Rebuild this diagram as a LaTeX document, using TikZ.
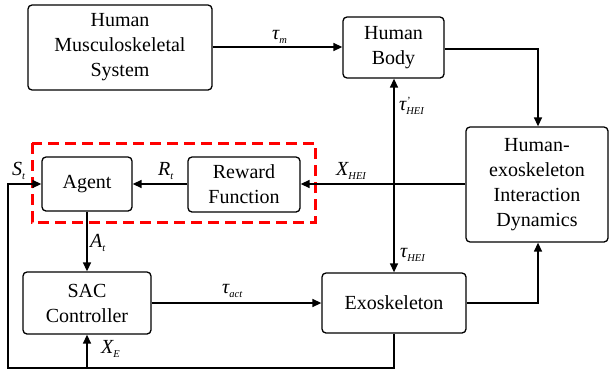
\documentclass[tikz,border=0pt]{standalone}
\usepackage{fontspec}
\setmainfont{Liberation Serif}
\usetikzlibrary{arrows.meta,positioning}

% symbol with a lowered subscript (and optional prime)
\newcommand{\symsub}[2]{{\fontsize{20}{20}\selectfont\itshape #1}\raisebox{-0.4em}{\fontsize{10.5}{10.5}\selectfont\itshape #2}}
\newcommand{\symprimesub}[2]{{\fontsize{20}{20}\selectfont\itshape #1}\rlap{\raisebox{0.55em}{\fontsize{11}{11}\selectfont\itshape '}}\raisebox{-0.4em}{\fontsize{10.5}{10.5}\selectfont\itshape #2}}

\tikzset{
  blockbox/.style={draw, line width=1.3pt, rounded corners=4pt, align=center,
    font=\fontsize{20}{25}\selectfont, inner sep=0pt},
  flow/.style={line width=1.4pt, -{Triangle[length=9pt,width=8pt]}},
  both/.style={line width=1.4pt, {Triangle[length=9pt,width=8pt]}-{Triangle[length=9pt,width=8pt]}},
  plain/.style={line width=1.4pt},
  sym/.style={anchor=west, inner sep=0pt},
  groupbox/.style={draw=red, line width=3pt, dash pattern=on 11pt off 6pt}
}

\begin{document}
\begin{tikzpicture}[x=1pt,y=-1pt]
\useasboundingbox (0,0) rectangle (609,375);

% blocks
\node[blockbox, minimum width=184pt, minimum height=85pt] (hms) at (120,47.5) {Human\\Musculoskeletal\\System};
\node[blockbox, minimum width=101pt, minimum height=61pt] (body) at (393.5,47.5) {Human\\Body};
\node[blockbox, minimum width=142pt, minimum height=115pt] (hid) at (537,184.5) {Human-\\exoskeleton\\Interaction\\Dynamics};
\node[blockbox, minimum width=90pt, minimum height=54pt] (agent) at (87,184) {Agent};
\node[blockbox, minimum width=112pt, minimum height=55pt] (reward) at (244,184.5) {Reward\\Function};
\node[blockbox, minimum width=128pt, minimum height=62pt] (sac) at (87,303) {SAC\\Controller};
\node[blockbox, minimum width=144pt, minimum height=60pt] (exo) at (394,303) {Exoskeleton};

% dashed group around agent and reward
\draw[groupbox] (32,143) rectangle (315,222);

% helper points
\coordinate (bodyturn) at (538,49);
\coordinate (exoturn) at (538,303);
\coordinate (loopR) at (394,368);
\coordinate (loopL) at (8,368);
\coordinate (loopUp) at (8,184);
\coordinate (xeBase) at (87,368);

% connectors
\draw[flow] (hms.east |- 0,47) -- (body.west |- 0,47);
\draw[flow] (body.east |- bodyturn) -- (bodyturn) -- (hid.north -| bodyturn);
\draw[flow] (exo.east) -- (exoturn) -- (hid.south -| exoturn);
\draw[flow] (hid.west |- 0,184) -- (reward.east |- 0,184);
\draw[flow] (reward.west |- 0,184) -- (agent.east |- 0,184);
\draw[flow] (agent.south) -- (sac.north);
\draw[flow] (sac.east) -- (exo.west);
\draw[both] (body.south -| 394,0) -- (exo.north);
\draw[flow] (exo.south) -- (loopR) -- (loopL) -- (loopUp) -- (agent.west |- loopUp);
\draw[flow] (xeBase) -- (sac.south);

% signal labels
\node[sym] (ltm) at (272,37) {\symsub{τ}{m}};
\node[sym] (lthp) at (399,106) {\symprimesub{τ}{HEI}};
\node[sym] (lxhei) at (336,171) {\symsub{X}{HEI}};
\node[sym] (lthei) at (400,255) {\symsub{τ}{HEI}};
\node[sym] (lrt) at (158,171) {\symsub{R}{t}};
\node[sym] (lst) at (12,171) {\symsub{S}{t}};
\node[sym] (lat) at (90,243) {\symsub{A}{t}};
\node[sym] (ltact) at (222,291) {\symsub{τ}{act}};
\node[sym] (lxe) at (101,349) {\symsub{X}{E}};
\end{tikzpicture}
\end{document}
